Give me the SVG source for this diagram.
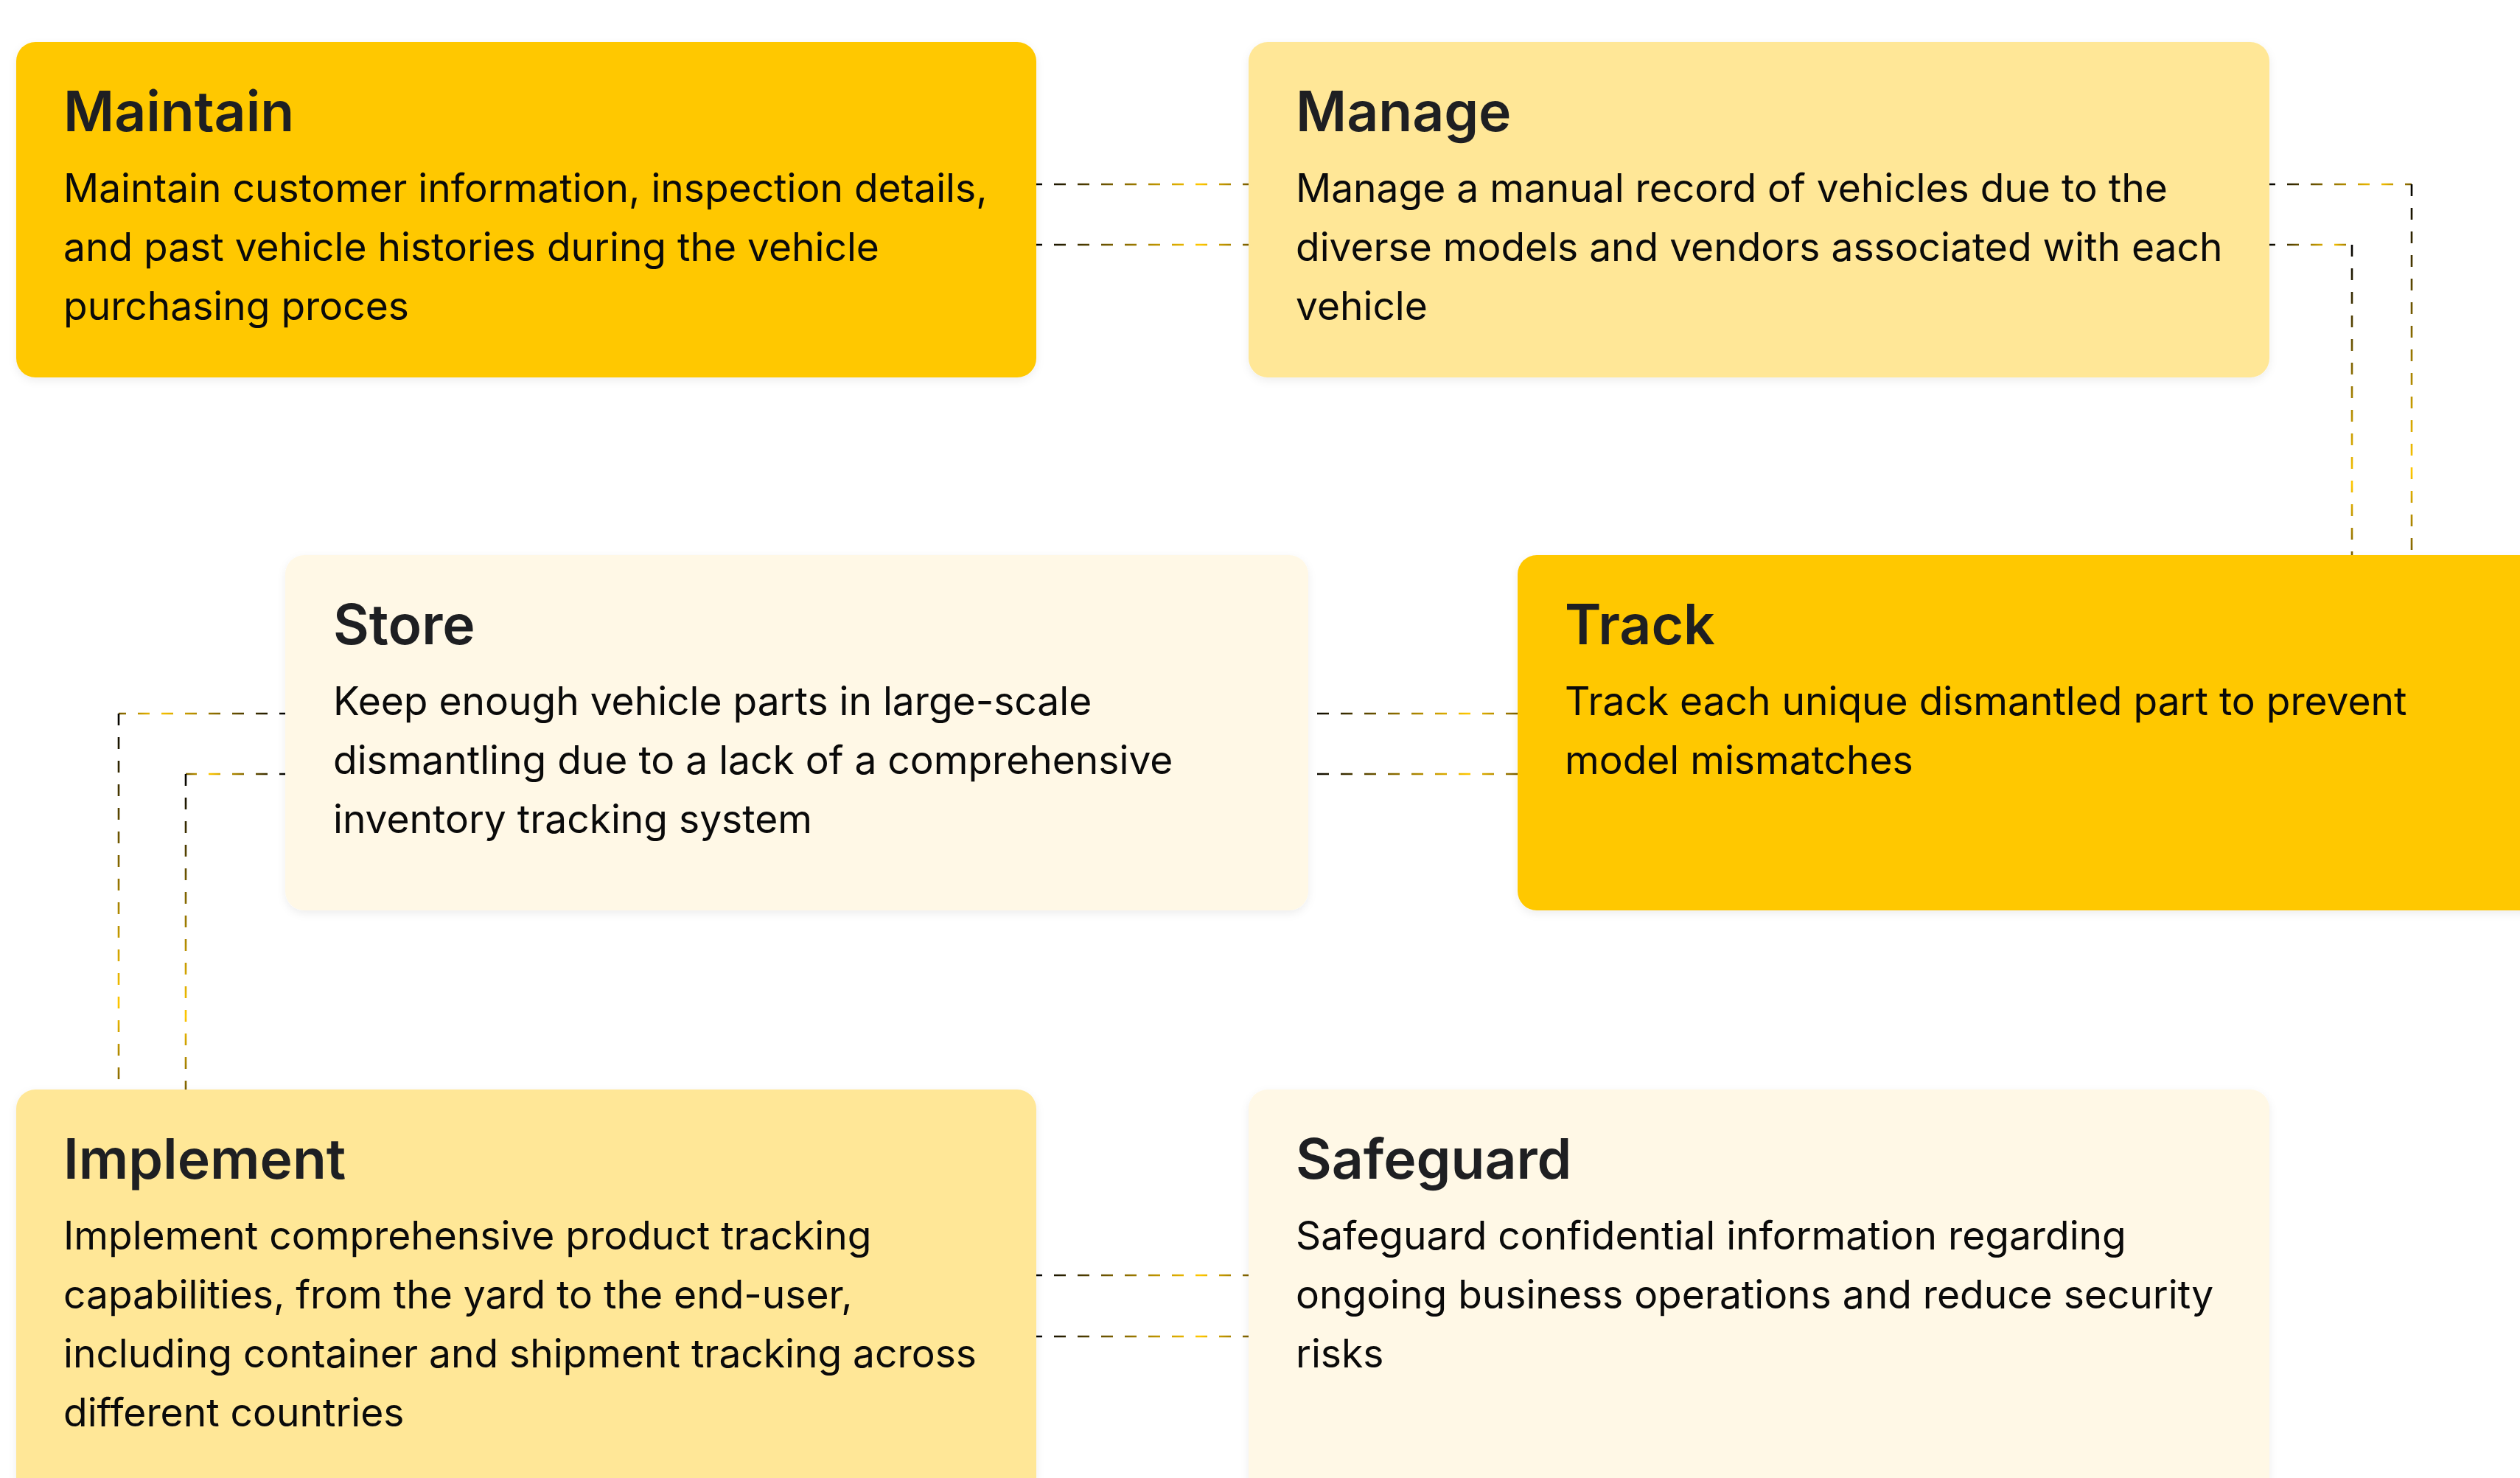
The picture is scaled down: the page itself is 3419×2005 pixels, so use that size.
<svg xmlns="http://www.w3.org/2000/svg" width="3419" height="2005" viewBox="0 0 3419 2005">
<style>
.title{font-family:Inter,"Noto Sans","Liberation Sans",sans-serif;font-size:75px;font-weight:600;fill:#1E1F22}
.body{font-family:Inter,"Noto Sans","Liberation Sans",sans-serif;font-size:53.3px;font-weight:400;fill:#0A0A0A}
.box{filter:url(#sh)}
.c1{fill:#FFC800}.c2{fill:#FFE797}.c3{fill:#FFF8E6}
.cn{fill:none;stroke-width:2.6;stroke-dasharray:16 16}
</style>
<defs>
<filter id="sh" x="-5%" y="-5%" width="110%" height="115%">
<feDropShadow dx="0" dy="4" stdDeviation="6" flood-color="#000" flood-opacity="0.07"/>
</filter>
<linearGradient id="g1" gradientUnits="userSpaceOnUse" x1="1406" y1="0" x2="1694" y2="0"><stop offset="0" stop-color="#000"/><stop offset="0.77" stop-color="#FFC700"/><stop offset="1" stop-color="#7A5E00"/></linearGradient>
<linearGradient id="g2" gradientUnits="userSpaceOnUse" x1="3079" y1="0" x2="3272" y2="0"><stop offset="0" stop-color="#000"/><stop offset="0.77" stop-color="#FFC700"/><stop offset="1" stop-color="#7A5E00"/></linearGradient>
<linearGradient id="g3" gradientUnits="userSpaceOnUse" x1="0" y1="250" x2="0" y2="753"><stop offset="0" stop-color="#000"/><stop offset="0.77" stop-color="#FFC700"/><stop offset="1" stop-color="#7A5E00"/></linearGradient>
<linearGradient id="g4" gradientUnits="userSpaceOnUse" x1="3079" y1="0" x2="3191" y2="0"><stop offset="0" stop-color="#000"/><stop offset="0.77" stop-color="#FFC700"/><stop offset="1" stop-color="#7A5E00"/></linearGradient>
<linearGradient id="g5" gradientUnits="userSpaceOnUse" x1="0" y1="332" x2="0" y2="753"><stop offset="0" stop-color="#000"/><stop offset="0.77" stop-color="#FFC700"/><stop offset="1" stop-color="#7A5E00"/></linearGradient>
<linearGradient id="g6" gradientUnits="userSpaceOnUse" x1="1775" y1="0" x2="2059" y2="0"><stop offset="0" stop-color="#000"/><stop offset="0.77" stop-color="#FFC700"/><stop offset="1" stop-color="#7A5E00"/></linearGradient>
<linearGradient id="g7" gradientUnits="userSpaceOnUse" x1="387" y1="0" x2="161" y2="0"><stop offset="0" stop-color="#000"/><stop offset="0.77" stop-color="#FFC700"/><stop offset="1" stop-color="#7A5E00"/></linearGradient>
<linearGradient id="g8" gradientUnits="userSpaceOnUse" x1="0" y1="968" x2="0" y2="1478"><stop offset="0" stop-color="#000"/><stop offset="0.77" stop-color="#FFC700"/><stop offset="1" stop-color="#7A5E00"/></linearGradient>
<linearGradient id="g9" gradientUnits="userSpaceOnUse" x1="387" y1="0" x2="252" y2="0"><stop offset="0" stop-color="#000"/><stop offset="0.77" stop-color="#FFC700"/><stop offset="1" stop-color="#7A5E00"/></linearGradient>
<linearGradient id="g10" gradientUnits="userSpaceOnUse" x1="0" y1="1050" x2="0" y2="1478"><stop offset="0" stop-color="#000"/><stop offset="0.77" stop-color="#FFC700"/><stop offset="1" stop-color="#7A5E00"/></linearGradient>
</defs>
<rect width="3419" height="2005" fill="#FFFFFF"/>

<g id="connectors">
<line class="cn" stroke="url(#g1)" x1="1406" y1="250" x2="1694" y2="250" stroke-dashoffset="8"/>
<line class="cn" stroke="url(#g1)" x1="1406" y1="332" x2="1694" y2="332" stroke-dashoffset="8"/>
<line class="cn" stroke="url(#g2)" x1="3079" y1="250" x2="3272" y2="250" stroke-dashoffset="8"/>
<line class="cn" stroke="url(#g3)" x1="3272" y1="250" x2="3272" y2="753"/>
<line class="cn" stroke="url(#g4)" x1="3079" y1="332" x2="3191" y2="332" stroke-dashoffset="8"/>
<line class="cn" stroke="url(#g5)" x1="3191" y1="332" x2="3191" y2="753"/>
<line class="cn" stroke="url(#g6)" x1="1775" y1="968" x2="2059" y2="968" stroke-dashoffset="-12"/>
<line class="cn" stroke="url(#g6)" x1="1775" y1="1050" x2="2059" y2="1050" stroke-dashoffset="-12"/>
<line class="cn" stroke="url(#g7)" x1="387" y1="968" x2="161" y2="968" stroke-dashoffset="8"/>
<line class="cn" stroke="url(#g8)" x1="161" y1="968" x2="161" y2="1478"/>
<line class="cn" stroke="url(#g9)" x1="387" y1="1050" x2="252" y2="1050" stroke-dashoffset="8"/>
<line class="cn" stroke="url(#g10)" x1="252" y1="1050" x2="252" y2="1478"/>
<line class="cn" stroke="url(#g1)" x1="1406" y1="1730" x2="1694" y2="1730" stroke-dashoffset="8"/>
<line class="cn" stroke="url(#g1)" x1="1406" y1="1813" x2="1694" y2="1813" stroke-dashoffset="8"/>
</g>

<g id="maintain">
<rect class="box c1" x="22" y="57" width="1384" height="455" rx="26"/>
<text class="title" x="86" y="178">Maintain</text>
<text class="body"><tspan x="86" y="274">Maintain customer information, inspection details,</tspan><tspan x="86" y="354">and past vehicle histories during the vehicle</tspan><tspan x="86" y="434">purchasing proces</tspan></text>
</g>

<g id="manage">
<rect class="box c2" x="1694" y="57" width="1385" height="455" rx="26"/>
<text class="title" x="1758" y="178">Manage</text>
<text class="body"><tspan x="1758" y="274">Manage a manual record of vehicles due to the</tspan><tspan x="1758" y="354">diverse models and vendors associated with each</tspan><tspan x="1758" y="434">vehicle</tspan></text>
</g>

<g id="store">
<rect class="box c3" x="387" y="753" width="1388" height="482" rx="26"/>
<text class="title" x="452" y="874">Store</text>
<text class="body"><tspan x="452" y="970">Keep enough vehicle parts in large-scale</tspan><tspan x="452" y="1050">dismantling due to a lack of a comprehensive</tspan><tspan x="452" y="1130">inventory tracking system</tspan></text>
</g>

<g id="track">
<rect class="box c1" x="2059" y="753" width="1400" height="482" rx="26"/>
<text class="title" x="2123" y="874">Track</text>
<text class="body"><tspan x="2123" y="970">Track each unique dismantled part to prevent</tspan><tspan x="2123" y="1050">model mismatches</tspan></text>
</g>

<g id="implement">
<rect class="box c2" x="22" y="1478" width="1384" height="600" rx="26"/>
<text class="title" x="86" y="1599">Implement</text>
<text class="body"><tspan x="86" y="1695">Implement comprehensive product tracking</tspan><tspan x="86" y="1775">capabilities, from the yard to the end-user,</tspan><tspan x="86" y="1855">including container and shipment tracking across</tspan><tspan x="86" y="1935">different countries</tspan></text>
</g>

<g id="safeguard">
<rect class="box c3" x="1694" y="1478" width="1385" height="600" rx="26"/>
<text class="title" x="1758" y="1599">Safeguard</text>
<text class="body"><tspan x="1758" y="1695">Safeguard confidential information regarding</tspan><tspan x="1758" y="1775">ongoing business operations and reduce security</tspan><tspan x="1758" y="1855">risks</tspan></text>
</g>
</svg>
